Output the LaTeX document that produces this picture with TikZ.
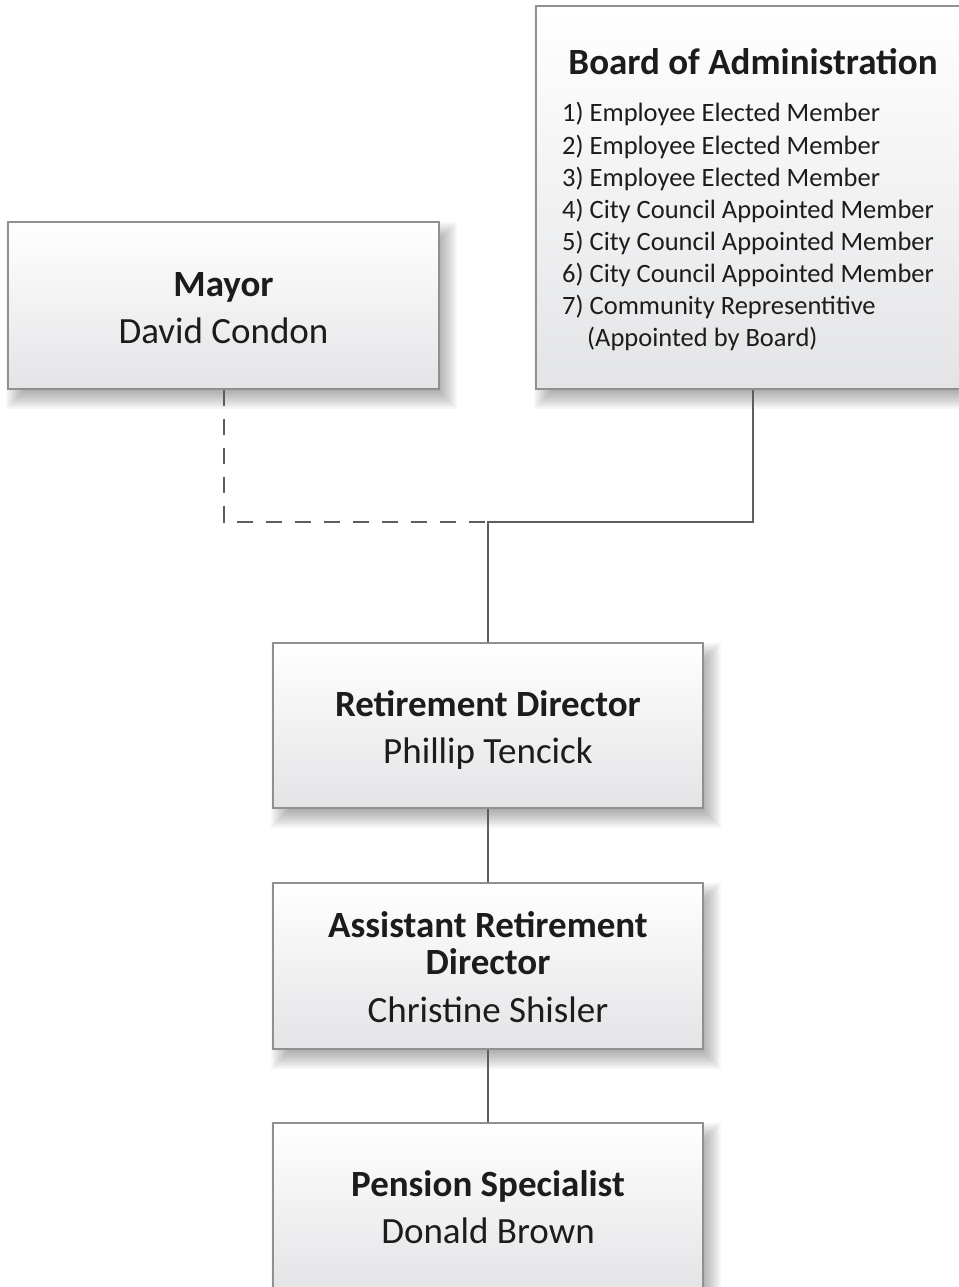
\documentclass[tikz,border=0pt]{standalone}
\usepackage{fontspec}
\setmainfont{Carlito}
\definecolor{boxborder}{HTML}{909090}
\definecolor{boxbottom}{HTML}{E3E4E6}
\definecolor{linecol}{HTML}{5E5E5E}
\definecolor{txtcol}{HTML}{1C1C1C}
\pgfdeclarelayer{bglayer}
\pgfsetlayers{bglayer,main}
\newcommand\orgshadow[1]{%
  \foreach \e in {9,7,...,-9}{%
    \fill[black,fill opacity=0.035]
      ([xshift={(8-(\e))*1pt}, yshift={(-10-(\e))*1pt}]#1.south west) rectangle
      ([xshift={(8+(\e))*1pt}, yshift={(-10+(\e))*1pt}]#1.north east);
  }}
\begin{document}
\begin{tikzpicture}[x=1pt,y=-1pt,
  orgbox/.style={rectangle, draw=boxborder, line width=1.3pt, inner sep=0pt,
    top color=white, bottom color=boxbottom},
  titletext/.style={anchor=base, inner sep=0pt, text=txtcol, font=\fontsize{37}{40}\selectfont\bfseries},
  nametext/.style={anchor=base, inner sep=0pt, text=txtcol, font=\fontsize{37}{40}\selectfont},
  listtext/.style={anchor=base west, inner sep=0pt, text=txtcol, font=\fontsize{26.5}{30}\selectfont},
  conn/.style={draw=linecol, line width=2pt},
  dashconn/.style={conn, dash pattern=on 16pt off 13pt}
]
\useasboundingbox (0,0) rectangle (958,1287);
\begin{pgfonlayer}{bglayer}
\fill[white] (0,0) rectangle (958,1287);
\end{pgfonlayer}

% boxes
\node[orgbox, minimum width=431pt, minimum height=167pt] (mayor) at (223.5,305.5) {};
\node[orgbox, minimum width=434pt, minimum height=383pt] (board) at (753,197.5) {};
\node[orgbox, minimum width=430pt, minimum height=165pt] (ret) at (488,725.5) {};
\node[orgbox, minimum width=430pt, minimum height=166pt] (asst) at (488,966) {};
\node[orgbox, minimum width=430pt, minimum height=167pt] (pens) at (488,1206.5) {};

\begin{pgfonlayer}{bglayer}
\orgshadow{mayor}
\orgshadow{board}
\orgshadow{ret}
\orgshadow{asst}
\orgshadow{pens}
\end{pgfonlayer}

% texts
\node[titletext] (mayorT) at (223.5,296) {Mayor};
\node[nametext] (mayorN) at (223.5,343) {David Condon};

\node[titletext] (boardT) at (753,75) {Board of Administration};
\node[listtext] (b1) at (562,122) {1) Employee Elected Member};
\node[listtext] (b2) at (562,154) {2) Employee Elected Member};
\node[listtext] (b3) at (562,186) {3) Employee Elected Member};
\node[listtext] (b4) at (562,218) {4) City Council Appointed Member};
\node[listtext] (b5) at (562,250) {5) City Council Appointed Member};
\node[listtext] (b6) at (562,282) {6) City Council Appointed Member};
\node[listtext] (b7) at (562,314) {7) Community Representitive};
\node[listtext] (b8) at (587,346) {(Appointed by Board)};

\node[titletext] (retT) at (488,716) {Retirement Director};
\node[nametext] (retN) at (488,763) {Phillip Tencick};

\node[titletext] (asstT1) at (488,937) {Assistant Retirement};
\node[titletext] (asstT2) at (488,974) {Director};
\node[nametext] (asstN) at (488,1022) {Christine Shisler};

\node[titletext] (pensT) at (488,1196) {Pension Specialist};
\node[nametext] (pensN) at (488,1243) {Donald Brown};

% connectors
\coordinate (jn) at (488,521.5);
\draw[dashconn] (mayor.south) |- (jn);
\draw[conn] (board.south) |- (jn) -- (ret.north);
\draw[conn] (ret.south) -- (asst.north);
\draw[conn] (asst.south) -- (pens.north);
\end{tikzpicture}
\end{document}
